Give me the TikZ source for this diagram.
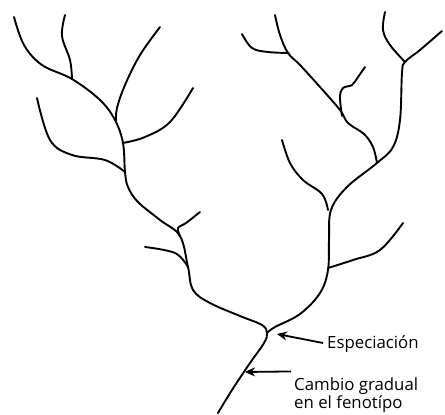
\documentclass[tikz,border=0pt]{standalone}
\usepackage{fontspec}
\setmainfont{Open Sans}
\usetikzlibrary{arrows.meta}
\begin{document}
\begin{tikzpicture}[x=1pt,y=-1pt,
  br/.style={line width=1.9pt,line cap=round,line join=round},
  lbl/.style={font=\fontsize{16.8}{16}\selectfont,anchor=west,inner sep=0pt,align=left},
  arr/.style={line width=1.8pt,-{Stealth[length=10pt,width=9pt]}}]
\useasboundingbox (0,0) rectangle (445,415);
% trunk and left part
\draw[br] plot[smooth,tension=0.6] coordinates {(218,413) (232,390) (250,363) (264,343) (267,333) (262,325) (240,316) (210,303) (193,290) (188,267) (180,236) (160,220) (138,202) (128,187) (125,172) (123,143) (115,120) (100,100) (72,79) (42,65) (24,45) (14,17)};
\draw[br] plot[smooth,tension=0.6] coordinates {(72,79) (70,60) (62,36) (65,15)};
\draw[br] plot[smooth,tension=0.6] coordinates {(116,121) (117,108) (125,85) (140,55) (160,27)};
\draw[br] plot[smooth,tension=0.6] coordinates {(123,143) (145,137) (170,122) (193,88)};
\draw[br] plot[smooth,tension=0.6] coordinates {(125,172) (105,160) (72,155) (50,140) (37,98)};
\draw[br] plot[smooth,tension=0.6] coordinates {(180,236) (178,228) (186,223) (200,212)};
\draw[br] plot[smooth,tension=0.6] coordinates {(188,267) (175,253) (145,247)};
% right part
\draw[br] plot[smooth,tension=0.6] coordinates {(267,333) (275,327) (300,314) (320,293) (328,270) (329,240) (331,210) (347,187) (377,163) (393,147) (400,120) (402,73) (405,62) (420,50) (442,31)};
\draw[br] plot[smooth,tension=0.6] coordinates {(405,62) (390,45) (383,30) (385,12)};
\draw[br] plot[smooth,tension=0.6] coordinates {(328,268) (353,260) (380,250) (403,223)};
\draw[br] plot[smooth,tension=0.6] coordinates {(328,210) (322,194) (303,180) (290,163) (282,140)};
\draw[br] plot[smooth,tension=0.6] coordinates {(377,163) (373,147) (364,134) (348,123) (340,110) (320,87) (300,65) (288,53) (280,35) (275,15)};
\draw[br] plot[smooth,tension=0.6] coordinates {(342,116) (340,97) (343,88) (352,85) (358,77) (365,67)};
\draw[br] plot[smooth,tension=0.6] coordinates {(289,53) (268,52) (252,48) (242,34)};
% labels
\coordinate (spec) at (277,334);
\coordinate (grad) at (245,372);
\node[lbl] (t1) at (327,344) {Especiación};
\node[lbl] (t2) at (294,395) {Cambio gradual\\en el fenotípo};
\draw[arr] (t1.west) ++(-4,-1) -- (spec);
\draw[arr] (t2.north west) ++(-3,-6) -- (grad);
\end{tikzpicture}
\end{document}
